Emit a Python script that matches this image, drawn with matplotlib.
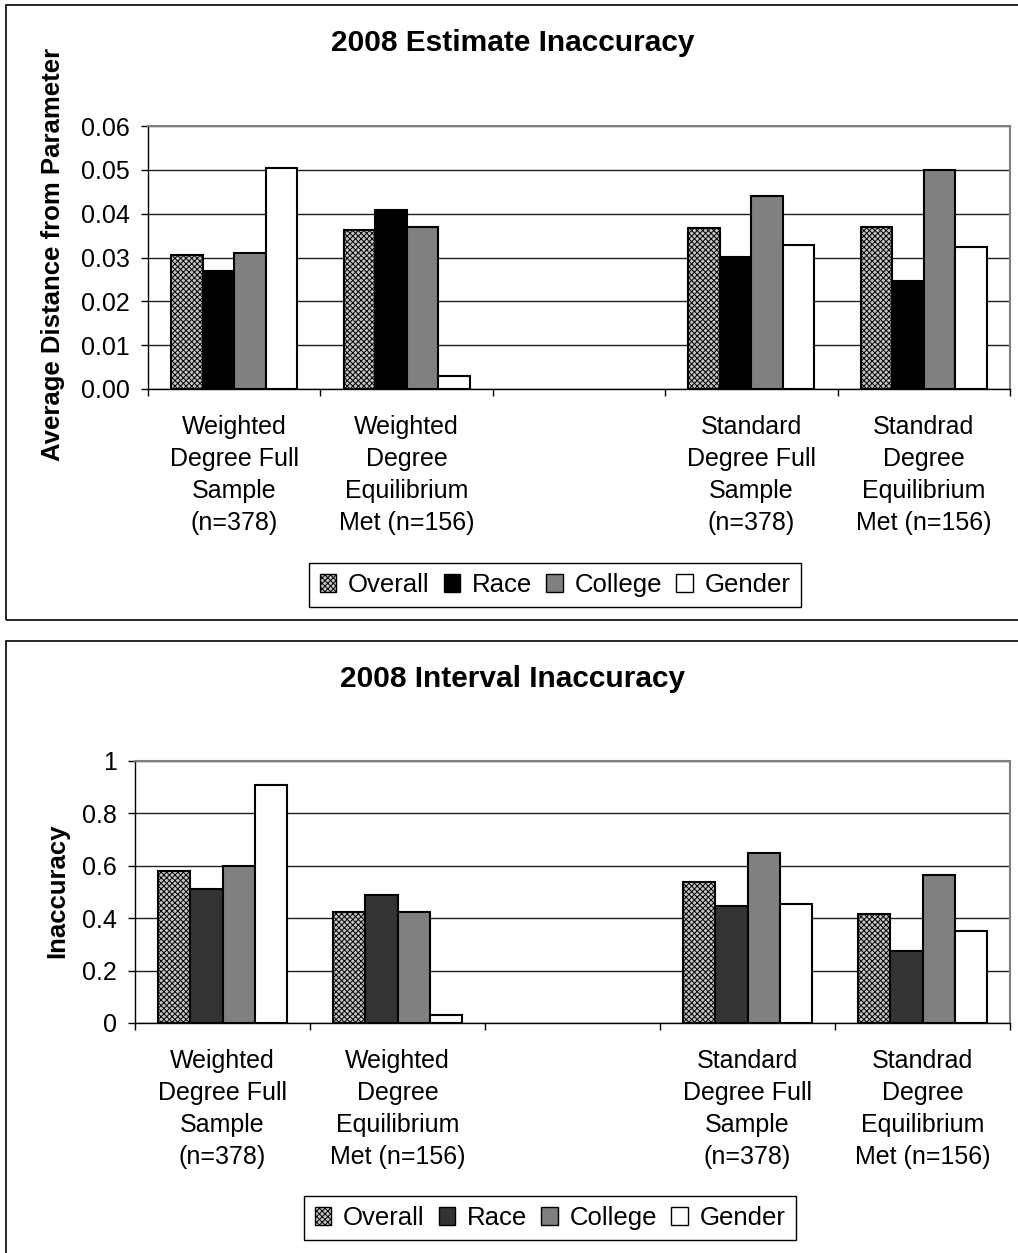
import matplotlib
matplotlib.use("Agg")
import matplotlib.pyplot as plt
import matplotlib.patches as mpatches
import numpy as np

plt.rcParams["font.family"] = ["Liberation Sans", "DejaVu Sans"]
plt.rcParams["hatch.linewidth"] = 0.7

# ---------------------------------------------------------------------------
# Data
# ---------------------------------------------------------------------------
categories = [
    "Weighted\nDegree Full\nSample\n(n=378)",
    "Weighted\nDegree\nEquilibrium\nMet (n=156)",
    "",
    "Standard\nDegree Full\nSample\n(n=378)",
    "Standrad\nDegree\nEquilibrium\nMet (n=156)",
]
series = ["Overall", "Race", "College", "Gender"]

# top chart: estimate inaccuracy (empty third category)
est_overall = [0.0306, 0.0363, np.nan, 0.0367, 0.0370]
est_race    = [0.0270, 0.0409, np.nan, 0.0302, 0.0246]
est_college = [0.0311, 0.0370, np.nan, 0.0440, 0.0500]
est_gender  = [0.0504, 0.0029, np.nan, 0.0329, 0.0323]

# bottom chart: interval inaccuracy
int_overall = [0.581, 0.424, np.nan, 0.540, 0.417]
int_race    = [0.510, 0.489, np.nan, 0.447, 0.276]
int_college = [0.599, 0.424, np.nan, 0.648, 0.564]
int_gender  = [0.909, 0.032, np.nan, 0.455, 0.353]

est_ticks = [0.00, 0.01, 0.02, 0.03, 0.04, 0.05, 0.06]
int_ticks = [0, 0.2, 0.4, 0.6, 0.8, 1.0]

# ---------------------------------------------------------------------------
# Style
# ---------------------------------------------------------------------------
FS = 18
GRID = "#202020"
FRAME = "#808080"


def bar_styles(race_color):
    return [
        dict(facecolor="#c4c4c4", hatch="xxxxxx"),   # checker-like pattern
        dict(facecolor=race_color),
        dict(facecolor="#808080"),
        dict(facecolor="white"),
    ]


def draw_panel(ax, data, race_color, ticks, tick_fmt, ylim):
    n = len(categories)
    x = np.arange(n)
    w = 0.183
    styles = bar_styles(race_color)
    for i, (vals, st) in enumerate(zip(data, styles)):
        ax.bar(x + (i - 1.5) * w, vals, width=w, edgecolor="black",
               linewidth=1.5, zorder=3, **st)
    ax.set_xlim(-0.5, n - 0.5)
    ax.set_ylim(*ylim)
    ax.set_yticks(ticks)
    ax.set_yticklabels([tick_fmt(t) for t in ticks], fontsize=FS)
    # major ticks at category boundaries, labels at centres
    ax.set_xticks(np.arange(n + 1) - 0.5)
    ax.set_xticklabels([])
    ax.set_xticks(x, minor=True)
    ax.set_xticklabels(categories, minor=True, fontsize=FS, linespacing=1.42)
    ax.tick_params(axis="x", which="major", direction="out", length=5,
                   width=1, color="black")
    ax.tick_params(axis="x", which="minor", length=0, pad=19)
    ax.tick_params(axis="y", direction="out", length=5, width=1, pad=8)
    ax.grid(axis="y", color=GRID, linewidth=1.0, zorder=0)
    ax.set_axisbelow(True)
    for s in ["top", "right"]:
        ax.spines[s].set_color(FRAME)
        ax.spines[s].set_linewidth(1.5)
    for s in ["left", "bottom"]:
        ax.spines[s].set_color("black")
        ax.spines[s].set_linewidth(1.0)
    ax.spines["bottom"].set_zorder(4)


def legend(fig, race_color, cx, cy):
    styles = bar_styles(race_color)
    handles = [mpatches.Patch(edgecolor="black", linewidth=1.0, label=lab, **st)
               for lab, st in zip(series, styles)]
    leg = fig.legend(handles=handles, loc="center", bbox_to_anchor=(cx, cy),
                     ncol=4, fontsize=FS + 0.5, frameon=True, fancybox=False,
                     edgecolor="black", framealpha=1, handlelength=0.65,
                     handleheight=0.65, handletextpad=0.45, columnspacing=0.55,
                     borderpad=0.4, borderaxespad=0)
    leg.get_frame().set_linewidth(1.0)


W, H = 1018, 1253
fig = plt.figure(figsize=(W / 100, H / 100), dpi=100)
fig.patch.set_facecolor("white")

# chart borders
fig.patches.append(mpatches.Rectangle((6 / W, 1 - 620 / H), 1.2, 615 / H,
                   transform=fig.transFigure, fill=False, edgecolor="black",
                   linewidth=1.2))
fig.patches.append(mpatches.Rectangle((6 / W, -0.1), 1.2, 1 - 641 / H + 0.1,
                   transform=fig.transFigure, fill=False, edgecolor="black",
                   linewidth=1.2))

# top panel
ax1 = fig.add_axes([148 / W, 1 - 389 / H, (1010 - 148) / W, (389 - 126) / H])
draw_panel(ax1, [est_overall, est_race, est_college, est_gender], "black",
           est_ticks, lambda t: f"{t:.2f}", (0, 0.06))
fig.text(513 / W, 1 - 43 / H, "2008 Estimate Inaccuracy", ha="center",
         va="center", fontsize=21.5, fontweight="bold")
fig.text(53 / W, 1 - 254 / H, "Average Distance from Parameter", rotation=90,
         ha="center", va="center", fontsize=18.5, fontweight="bold")
legend(fig, "black", 555 / W, 1 - 585 / H)

# bottom panel
ax2 = fig.add_axes([135 / W, 1 - 1023 / H, (1010 - 135) / W, (1023 - 761) / H])
draw_panel(ax2, [int_overall, int_race, int_college, int_gender], "#333333",
           int_ticks, lambda t: f"{t:g}", (0, 1.0))
fig.text(513 / W, 1 - 679 / H, "2008 Interval Inaccuracy", ha="center",
         va="center", fontsize=21.5, fontweight="bold")
fig.text(57 / W, 1 - 891 / H, "Inaccuracy", rotation=90,
         ha="center", va="center", fontsize=18.5, fontweight="bold")
legend(fig, "#333333", 550 / W, 1 - 1218 / H)

fig.savefig("out.png", dpi=100, facecolor="white")
